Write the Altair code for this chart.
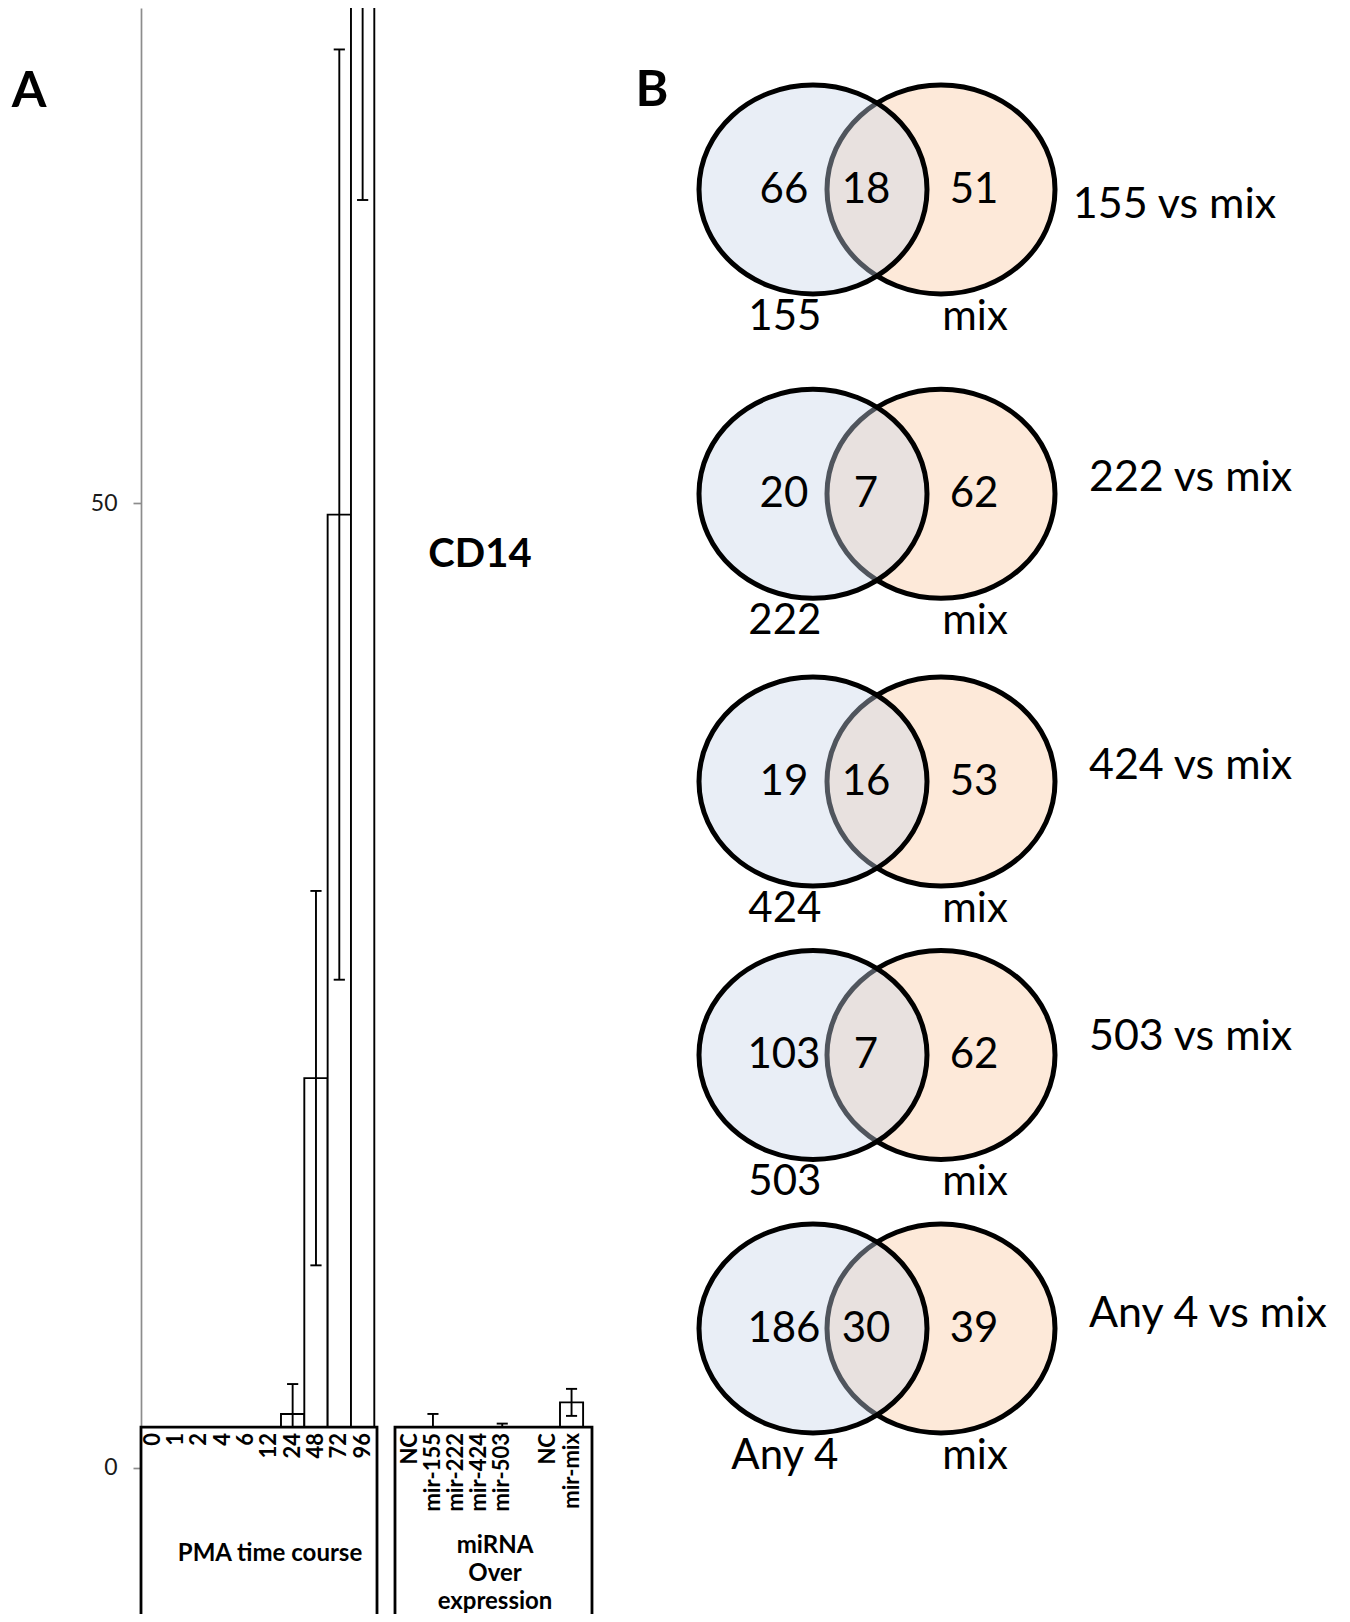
import altair as alt
import pandas as pd

# ---------------- Panel A data (CD14 bars) ----------------
pma_labels = ["0", "1", "2", "4", "6", "12", "24", "48", "72", "96"]
pma_values = [1.0, 1.0, 1.0, 1.0, 1.0, 1.1, 2.8, 20.2, 49.4, 98.0]
pma_errors = [0.1, 0.1, 0.1, 0.1, 0.1, 0.2, 1.55, 9.7, 24.1, 32.3]

mir_labels = ["NC", "mir-155", "mir-222", "mir-424", "mir-503", "NC", "mir-mix"]
mir_values = [1.0, 1.4, 1.0, 1.0, 1.0, 1.0, 3.4]
mir_errors = [0.1, 1.4, 0.1, 0.1, 1.3, 0.1, 0.7]

# ---------------- Panel B data (Venn counts) ----------------
venn_left_names = ["155", "222", "424", "503", "Any 4"]
venn_right_name = "mix"
venn_left_only = [66, 20, 19, 103, 186]
venn_shared = [18, 7, 16, 7, 30]
venn_right_only = [51, 62, 53, 62, 39]
venn_titles = ["155 vs mix", "222 vs mix", "424 vs mix", "503 vs mix", "Any 4 vs mix"]

# ---------------- layout constants ----------------
W, H = 1334, 1606
FONT = "Lato"
Y_DOMAIN = [-7.565, 75.648]
BOX_TOP = 2.12
LABEL_TOP = 1.81
mir_slots = [0, 1, 2, 3, 4, 6, 7]          # slot 5 is an empty gap
venn_row_y = [181.5, 485.8, 773.6, 1047.0, 1320.5]
venn_title_dy = [15.5, -16, -15.5, -18, -15]
venn_title_x = [2.03, 2.156, 2.156, 2.156, 2.156]
ELLIPSE = "M-1,0A1,0.9167,0,1,0,1,0A1,0.9167,0,1,0,-1,0Z"
ELLIPSE_SIZE = 228 * 228


def ysc():
    return alt.Scale(domain=Y_DOMAIN, nice=False, zero=False)


def x1sc():
    return alt.Scale(domain=[-0.5, 9.5], range=[133, 366.3], nice=False, zero=False)


def x2sc():
    return alt.Scale(domain=[-0.5, 7.5], range=[390.3, 575.1], nice=False, zero=False)


def vxsc():
    return alt.Scale(domain=[0, 1], range=[805, 933], nice=False, zero=False)


def vysc():
    return alt.Scale(domain=[0, H], range=[0, H], nice=False, zero=False)


def group_df(labels, values, errors, slots):
    df = pd.DataFrame({"label": labels, "value": values, "err": errors, "slot": slots})
    df["x1"] = df["slot"] - 0.5
    df["x2"] = df["slot"] + 0.5
    df["lo"] = df["value"] - df["err"]
    df["hi"] = df["value"] + df["err"]
    df["cl"] = df["slot"] - 0.24
    df["cr"] = df["slot"] + 0.24
    df["base"] = 0.0
    df["ly"] = LABEL_TOP
    return df


g1 = group_df(pma_labels, pma_values, pma_errors, list(range(len(pma_labels))))
g2 = group_df(mir_labels, mir_values, mir_errors, mir_slots)

yaxis = alt.Axis(values=[0, 50], offset=-133, grid=False, domainColor="#8c8c8c",
                 domainWidth=1.7, tickColor="#8c8c8c", tickWidth=1.7, tickSize=8,
                 labelFont=FONT, labelFontSize=23, labelColor="#1a1a1a",
                 labelPadding=16, title=None)


def group_layers(df, xsc, axis):
    bars = alt.Chart(df).mark_bar(fill="white", stroke="black", strokeWidth=1.9, clip=True).encode(
        x=alt.X("x1:Q", scale=xsc(), axis=None), x2="x2:Q",
        y=alt.Y("value:Q", scale=ysc(), axis=axis), y2="base:Q")
    rules = alt.Chart(df).mark_rule(color="black", strokeWidth=1.9, clip=True).encode(
        x=alt.X("slot:Q", scale=xsc(), axis=None),
        y=alt.Y("lo:Q", scale=ysc(), axis=None), y2="hi:Q")
    caps = alt.Chart(df).transform_fold(["lo", "hi"], as_=["end", "yv"]).mark_rule(
        color="black", strokeWidth=1.9, clip=True).encode(
        x=alt.X("cl:Q", scale=xsc(), axis=None), x2="cr:Q",
        y=alt.Y("yv:Q", scale=ysc(), axis=None))
    return [bars, rules, caps]


def box_layer(xa, xb, xsc):
    d = pd.DataFrame({"x1": [xa], "x2": [xb], "y1": [BOX_TOP], "y2": [-9.0]})
    return alt.Chart(d).mark_rect(fill="white", stroke="black", strokeWidth=2.8).encode(
        x=alt.X("x1:Q", scale=xsc(), axis=None), x2="x2:Q",
        y=alt.Y("y1:Q", scale=ysc(), axis=None), y2="y2:Q")


def label_layer(df, xsc):
    return alt.Chart(df).mark_text(angle=270, align="right", baseline="middle", font=FONT,
                                   fontWeight="bold", fontSize=22, color="black").encode(
        x=alt.X("slot:Q", scale=xsc(), axis=None),
        y=alt.Y("ly:Q", scale=ysc(), axis=None),
        text="label:N")


def annot(txt, x, y, size, weight="bold", align="center", baseline="middle", **kw):
    d = pd.DataFrame({"t": [txt]})
    return alt.Chart(d).mark_text(font=FONT, fontSize=size, fontWeight=weight, align=align,
                                  baseline=baseline, color="black", **kw).encode(
        x=alt.value(x), y=alt.value(y), text="t:N")


layers = []
layers += group_layers(g1, x1sc, yaxis)
layers += group_layers(g2, x2sc, None)
layers.append(box_layer(-0.5, 9.616, x1sc))
layers.append(box_layer(-0.643, 7.885, x2sc))
layers.append(label_layer(g1, x1sc))
layers.append(label_layer(g2, x2sc))
layers.append(annot("PMA time course", 262, 1546, 24))
layers.append(annot("miRNA\nOver\nexpression", 487, 1526, 24, baseline="top",
                    lineBreak="\n", lineHeight=28))
layers.append(annot("CD14", 472, 547, 40))
layers.append(annot("A", 21, 84, 50))
layers.append(annot("B", 644, 83, 50))

# ---------------- Venn diagrams ----------------
circ = pd.DataFrame({"row": list(range(5)), "y": venn_row_y})
circ_r = circ.assign(side=1.0)
circ_l = circ.assign(side=0.0)

right_c = alt.Chart(circ_r).mark_point(shape=ELLIPSE, size=ELLIPSE_SIZE, filled=True,
                                       fill="#fde9d9", stroke="black", strokeWidth=5,
                                       opacity=1, fillOpacity=1, strokeOpacity=1).encode(
    x=alt.X("side:Q", scale=vxsc(), axis=None), y=alt.Y("y:Q", scale=vysc(), axis=None))
left_c = alt.Chart(circ_l).mark_point(shape=ELLIPSE, size=ELLIPSE_SIZE, filled=True,
                                      fill="#c8d4e8", stroke="black", strokeWidth=5,
                                      opacity=1, fillOpacity=0.4, strokeOpacity=1).encode(
    x=alt.X("side:Q", scale=vxsc(), axis=None), y=alt.Y("y:Q", scale=vysc(), axis=None))
layers += [right_c, left_c]

rows = []
for i in range(5):
    yc = venn_row_y[i]
    rows.append({"t": str(venn_left_only[i]), "x": -0.227, "y": yc})
    rows.append({"t": str(venn_shared[i]), "x": 0.414, "y": yc})
    rows.append({"t": str(venn_right_only[i]), "x": 1.258, "y": yc})
    rows.append({"t": venn_left_names[i], "x": -0.22, "y": yc + 127})
    rows.append({"t": venn_right_name, "x": 1.266, "y": yc + 127})
vt = pd.DataFrame(rows)
side = pd.DataFrame({"t": venn_titles, "x": venn_title_x,
                     "y": [venn_row_y[i] + venn_title_dy[i] for i in range(5)]})

layers.append(alt.Chart(vt).mark_text(font=FONT, fontSize=42, align="center", baseline="middle",
                                      color="black").encode(
    x=alt.X("x:Q", scale=vxsc(), axis=None), y=alt.Y("y:Q", scale=vysc(), axis=None), text="t:N"))
layers.append(alt.Chart(side).mark_text(font=FONT, fontSize=43, align="left", baseline="middle",
                                        color="black").encode(
    x=alt.X("x:Q", scale=vxsc(), axis=None), y=alt.Y("y:Q", scale=vysc(), axis=None), text="t:N"))

chart = alt.layer(*layers).resolve_scale(x="independent", y="independent").properties(
    width=W, height=H, padding=0, autosize=alt.AutoSizeParams(type="none"),
    background="white").configure_view(stroke=None)

chart.save("out.html", embed_options={"renderer": "svg", "actions": False})
